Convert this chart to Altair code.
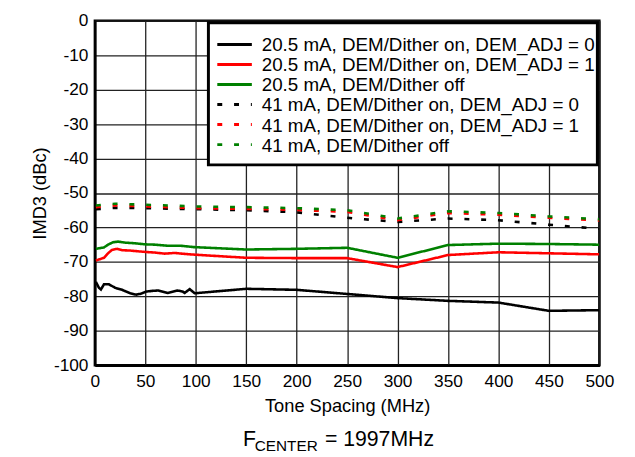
import altair as alt
import pandas as pd

# ---- data ----
labels = [
    "20.5 mA, DEM/Dither on, DEM_ADJ = 0",
    "20.5 mA, DEM/Dither on, DEM_ADJ = 1",
    "20.5 mA, DEM/Dither off",
    "41 mA, DEM/Dither on, DEM_ADJ = 0",
    "41 mA, DEM/Dither on, DEM_ADJ = 1",
    "41 mA, DEM/Dither off",
]
colors = ["#000000", "#ff0000", "#008000", "#000000", "#ff0000", "#008000"]

x_a0 = [1, 4, 6, 9, 14, 20, 27, 35, 41, 46, 51, 57, 63, 72, 82, 87, 89, 94, 99,
        150, 200, 250, 300, 350, 400, 450, 500]
y_a0 = [-75.8, -77.5, -78.0, -76.5, -76.5, -77.5, -78.1, -79.1, -79.5, -79.2, -78.6,
        -78.4, -78.3, -79.0, -78.3, -78.6, -79.0, -77.9, -79.1,
        -77.8, -78.1, -79.3, -80.5, -81.3, -81.8, -84.2, -84.0]

x_a1 = [1, 5, 9, 13, 17, 22, 27, 35, 42, 50, 60, 69, 79, 90, 99,
        150, 200, 250, 300, 350, 400, 450, 500]
y_a1 = [-69.6, -69.2, -68.8, -67.5, -66.5, -66.2, -66.6, -66.7, -66.9, -67.1, -67.3,
        -67.6, -67.4, -67.7, -67.9,
        -68.8, -68.9, -68.9, -71.5, -68.0, -67.2, -67.5, -67.8]

x_aoff = [1, 5, 9, 13, 18, 23, 30, 40, 50, 60, 72, 85, 98,
          150, 200, 250, 300, 350, 400, 450, 500]
y_aoff = [-66.2, -66.0, -65.8, -65.0, -64.3, -64.1, -64.4, -64.6, -64.9, -65.0, -65.3,
          -65.3, -65.7,
          -66.4, -66.2, -65.9, -68.8, -65.1, -64.7, -64.8, -65.0]

x_b = [1, 20, 50, 100, 150, 200, 250, 300, 350, 400, 450, 500]
y_b0 = [-54.7, -54.3, -54.4, -54.7, -55.0, -55.6, -57.2, -58.4, -57.4, -57.9, -59.2, -60.4]
y_b1 = [-54.1, -53.6, -53.9, -54.4, -54.6, -54.9, -55.5, -57.9, -55.8, -56.3, -57.2, -58.0]
y_boff = [-53.6, -53.1, -53.4, -53.9, -54.1, -54.4, -55.0, -57.4, -55.3, -55.8, -56.8, -57.6]

y_ticks = list(range(-100, 1, 10))
x_ticks = list(range(0, 501, 50))

# ---- tables ----
series = [
    (labels[0], x_a0, y_a0),
    (labels[1], x_a1, y_a1),
    (labels[2], x_aoff, y_aoff),
    (labels[3], x_b, y_b0),
    (labels[4], x_b, y_b1),
    (labels[5], x_b, y_boff),
]
rows = []
for name, xs, ys in series:
    for i, (xv, yv) in enumerate(zip(xs, ys)):
        rows.append({"series": name, "x": xv, "y": yv, "order": i})
df = pd.DataFrame(rows)
leg_df = pd.DataFrame({"series": labels, "row": list(range(len(labels)))})

FONT = "Liberation Sans"
W, H = 511, 349

dashes = [[1, 0], [1, 0], [1, 0], [5, 12], [5, 12], [5, 12]]
color_scale = alt.Scale(domain=labels, range=colors)
dash_scale = alt.Scale(domain=labels, range=dashes)

lines = alt.Chart(df).mark_line(strokeWidth=2.6, clip=True).encode(
    x=alt.X("x:Q", scale=alt.Scale(domain=[0, 500], nice=False),
            axis=alt.Axis(values=x_ticks, title="Tone Spacing (MHz)", grid=True,
                          ticks=False, labelPadding=8, titlePadding=6,
                          labelFlush=False, labelExpr="'' + datum.value")),
    y=alt.Y("y:Q", scale=alt.Scale(domain=[-100, 0], nice=False),
            axis=alt.Axis(values=y_ticks, title="IMD3 (dBc)", grid=True,
                          ticks=False, labelPadding=7, titlePadding=4,
                          labelFlush=False, labelExpr="'' + datum.value")),
    color=alt.Color("series:N", scale=color_scale, legend=None),
    strokeDash=alt.StrokeDash("series:N", scale=dash_scale, legend=None),
    detail="series:N",
    order="order:Q",
)

# ---- legend (box, symbols, labels) ----
leg_y = alt.Y("row:Q", scale=alt.Scale(domain=[0, 5], range=[24, 125.5]), axis=None)

leg_box = alt.Chart().mark_rect(fill="white", stroke="black", strokeWidth=3).encode(
    x=alt.value(115), x2=alt.value(509), y=alt.value(2), y2=alt.value(146))

leg_sym = alt.Chart(leg_df).mark_rule(strokeWidth=3).encode(
    x=alt.value(124), x2=alt.value(159), y=leg_y,
    color=alt.Color("series:N", scale=color_scale, legend=None),
    strokeDash=alt.StrokeDash("series:N", scale=dash_scale, legend=None),
)

leg_txt = alt.Chart(leg_df).mark_text(font=FONT, fontSize=19, align="left",
                                      baseline="middle", color="black", dy=1).encode(
    x=alt.value(169), y=leg_y, text="series:N")

legend = alt.layer(leg_box, leg_sym, leg_txt)

# ---- caption ----
cap_y = 431
capF = alt.Chart().mark_text(font=FONT, fontSize=21.5, align="left", baseline="alphabetic",
                             color="black").encode(
    x=alt.value(150), y=alt.value(cap_y), text=alt.value("F"))
capSub = alt.Chart().mark_text(font=FONT, fontSize=15.5, align="left", baseline="alphabetic",
                               color="black").encode(
    x=alt.value(162), y=alt.value(cap_y + 5), text=alt.value("CENTER"))
capRest = alt.Chart().mark_text(font=FONT, fontSize=21.5, align="left", baseline="alphabetic",
                                color="black").encode(
    x=alt.value(233), y=alt.value(cap_y), text=alt.value("= 1997MHz"))

chart = alt.layer(lines, legend, capF, capSub, capRest).resolve_scale(
    y="independent"
).properties(
    width=W, height=H,
    autosize=alt.AutoSizeParams(type="none"),
    padding={"left": 88, "top": 10, "right": 28, "bottom": 90},
).configure_view(
    stroke="black", strokeWidth=2.5
).configure_axis(
    labelFont=FONT, labelFontSize=17.5, labelColor="black",
    titleFont=FONT, titleFontSize=18.5, titleColor="black", titleFontWeight="normal",
    gridColor="#222222", gridWidth=1.3, gridOpacity=1,
    domainColor="black", domainWidth=2.5,
)

chart.save("out.html", embed_options={"renderer": "svg", "actions": False})
